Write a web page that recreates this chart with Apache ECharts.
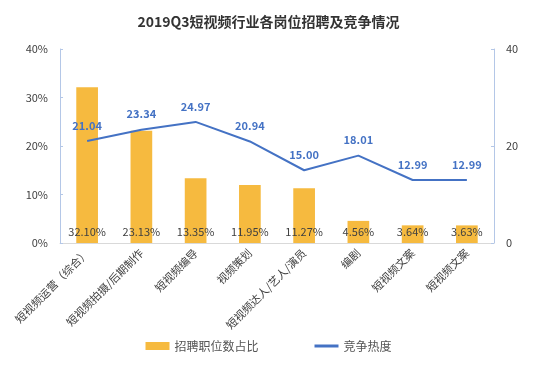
<!DOCTYPE html>
<html><head><meta charset="utf-8">
<script src="https://cdn.jsdelivr.net/npm/echarts@6/dist/echarts.min.js"></script>
<style>html,body{margin:0;padding:0;background:#fff}#c{width:537px;height:371px}</style>
</head><body><div id="c"></div>
<script>
const categories = ["短视频运营（综合）","短视频拍摄/后期制作","短视频编导","视频策划","短视频达人/艺人/演员","编剧","短视频文案","短视频文案"];
const shareValues = [32.10, 23.13, 13.35, 11.95, 11.27, 4.56, 3.64, 3.63];
const heatValues = [21.04, 23.34, 24.97, 20.94, 15.00, 18.01, 12.99, 12.99];
const leftTicks = [0, 10, 20, 30, 40];
const rightTicks = [0, 20, 40];
const font = '"Noto Sans CJK SC", sans-serif';
const chart = echarts.init(document.getElementById('c'));
chart.setOption({
  animation: false,
  textStyle: {fontFamily: font},
  title: {text: '2019Q3短视频行业各岗位招聘及竞争情况', left: 'center', top: 10,
    textStyle: {fontSize: 14, fontWeight: 'bold', color: '#333', fontFamily: font}},
  legend: {bottom: 14, itemGap: 56, itemWidth: 24, itemHeight: 8,
    textStyle: {fontSize: 12, color: '#555', fontFamily: font},
    data: [{name: '招聘职位数占比', icon: 'rect'}, {name: '竞争热度', icon: 'path://M0,0 L24,0 L24,3 L0,3 Z'}]},
  grid: {left: 60, right: 43, top: 49, bottom: 128},
  xAxis: {type: 'category', data: categories,
    axisLine: {lineStyle: {color: '#D9D9D9'}}, axisTick: {show: false},
    axisLabel: {rotate: 45, fontSize: 11, color: '#404040', interval: 0, margin: 8, fontFamily: font}},
  yAxis: [
    {type: 'value', min: leftTicks[0], max: leftTicks[leftTicks.length-1], interval: 10,
      axisLine: {show: true, lineStyle: {color: '#B4C7E7'}},
      axisTick: {show: true, inside: true, length: 3, lineStyle: {color: '#B4C7E7'}},
      splitLine: {show: false},
      axisLabel: {formatter: '{value}%', fontSize: 11, color: '#404040', margin: 12}},
    {type: 'value', min: rightTicks[0], max: rightTicks[rightTicks.length-1], interval: 20,
      axisLine: {show: true, lineStyle: {color: '#B4C7E7'}},
      axisTick: {show: true, inside: true, length: 3, lineStyle: {color: '#B4C7E7'}},
      splitLine: {show: false},
      axisLabel: {fontSize: 11, color: '#404040', margin: 12}}
  ],
  series: [
    {name: '招聘职位数占比', type: 'bar', data: shareValues, barWidth: '40%',
      itemStyle: {color: '#F6BA3F'},
      label: {show: true, position: 'insideBottom', distance: 6, fontSize: 11, color: '#404040',
        formatter: p => p.value.toFixed(2) + '%'}},
    {name: '竞争热度', type: 'line', yAxisIndex: 1, data: heatValues, symbol: 'circle', symbolSize: 0.1,
      lineStyle: {color: '#4472C4', width: 2}, itemStyle: {color: '#4472C4'},
      label: {show: true, position: 'top', distance: 10, fontSize: 11, fontWeight: 'bold', color: '#4472C4',
        formatter: p => p.value.toFixed(2)}}
  ]
});
</script></body></html>
